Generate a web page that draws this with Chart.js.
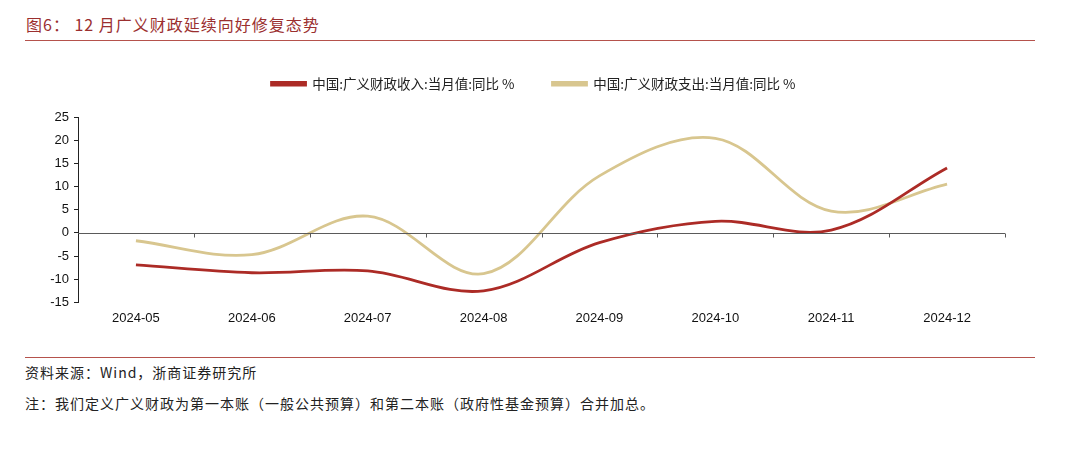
<!DOCTYPE html>
<html>
<head>
<meta charset="utf-8">
<script src="https://cdn.jsdelivr.net/npm/chart.js@4"></script>
<style>
    body { margin: 0; width: 1080px; height: 459px; background: #fff; position: relative; overflow: hidden; }
    .title { position: absolute; left: 26px; top: 12px; font: 16px "Noto Sans CJK SC", sans-serif; color: #9b2f2f; letter-spacing: 1px; }
    .rule { position: absolute; left: 25px; width: 1010px; height: 1px; background: #b5524c; }
    .note { position: absolute; left: 25px; font: 14px "Noto Sans CJK SC", sans-serif; color: #222; letter-spacing: 1px; }
    #box { position: absolute; left: 0; top: 50px; width: 1080px; height: 292px; }
</style>
</head>
<body>
<div class="title">图6： 12 月广义财政延续向好修复态势</div>
<div class="rule" style="top: 40px;"></div>
<div id="box"><canvas id="chart"></canvas></div>
<div class="rule" style="top: 357px;"></div>
<div class="note" style="top: 362px;">资料来源：Wind，浙商证券研究所</div>
<div class="note" style="top: 393px;">注：我们定义广义财政为第一本账（一般公共预算）和第二本账（政府性基金预算）合并加总。</div>

<script>
const months = ['2024-05', '2024-06', '2024-07', '2024-08', '2024-09', '2024-10', '2024-11', '2024-12'];
const revenueYoY = [-6.9, -8.6, -8.2, -12.5, -2.1, 2.5, 0.6, 14.0];
const spendingYoY = [-1.7, -4.7, 3.6, -8.8, 12.3, 20.4, 4.7, 10.5];
const yTicks = [-15, -10, -5, 0, 5, 10, 15, 20, 25];

// zero line with tick marks between categories
const zeroLine = {
    id: 'zeroLine',
    afterDatasetsDraw(chart) {
        const { ctx, chartArea, scales: { x, y } } = chart;
        const y0 = Math.round(y.getPixelForValue(0)) + 0.5;
        ctx.save();
        ctx.strokeStyle = '#5a5a5a';
        ctx.lineWidth = 1;
        ctx.beginPath();
        ctx.moveTo(chartArea.left, y0);
        ctx.lineTo(chartArea.right, y0);
        const step = (chartArea.right - chartArea.left) / months.length;
        for (let i = 1; i <= months.length; i++) {
            const px = Math.round(chartArea.left + i * step) + 0.5;
            ctx.moveTo(px, y0);
            ctx.lineTo(px, y0 + 4);
        }
        ctx.stroke();
        ctx.restore();
    }
};

new Chart(document.getElementById('chart'), {
    type: 'line',
    data: {
        labels: months,
        datasets: [
            {
                label: '中国:广义财政收入:当月值:同比 %',
                data: revenueYoY,
                borderColor: '#ac2b26',
                backgroundColor: '#ac2b26',
                borderWidth: 2.8,
                pointRadius: 0,
                tension: 0.35,
            },
            {
                label: '中国:广义财政支出:当月值:同比 %',
                data: spendingYoY,
                borderColor: '#d8c68f',
                backgroundColor: '#d8c68f',
                borderWidth: 2.8,
                pointRadius: 0,
                tension: 0.35,
            },
        ],
    },
    options: {
        responsive: true,
        maintainAspectRatio: false,
        animation: false,
        layout: { padding: { left: 0, right: 13, top: -11, bottom: 8 } },
        plugins: {
            tooltip: { enabled: false },
            legend: {
                weight: 1000,
                labels: {
                    boxWidth: 34,
                    boxHeight: 2.5,
                    padding: 38,
                    color: '#222',
                    font: { family: '"Noto Sans CJK SC", sans-serif', size: 13.5 },
                },
            },
            // empty title used as a spacer between legend and plot
            title: {
                display: true,
                text: '',
                weight: 500,
                padding: 0,
                font: { size: 10, lineHeight: 1.65 },
            },
        },
        scales: {
            x: {
                offset: true,
                grid: { display: false, drawTicks: false },
                border: { display: false },
                ticks: {
                    color: '#111',
                    padding: 8,
                    font: { family: '"Liberation Sans", Arial, sans-serif', size: 13 },
                },
            },
            y: {
                min: -15,
                max: 25,
                afterBuildTicks(scale) {
                    scale.ticks = yTicks.map(v => ({ value: v }));
                },
                afterFit(scale) {
                    scale.width = 78;
                },
                grid: { drawOnChartArea: false, drawTicks: true, tickLength: 4, color: '#222' },
                border: { display: true, color: '#222', width: 1 },
                ticks: {
                    color: '#111',
                    padding: 5,
                    font: { family: '"Liberation Sans", Arial, sans-serif', size: 13 },
                },
            },
            // blank right axis keeps the plot narrower than the legend band
            yRight: {
                position: 'right',
                min: 0,
                max: 1,
                grid: { display: false, drawTicks: false },
                border: { display: false },
                ticks: { display: false },
                afterFit(scale) {
                    scale.width = 62;
                },
            },
        },
    },
    plugins: [zeroLine],
});
</script>
</body>
</html>
